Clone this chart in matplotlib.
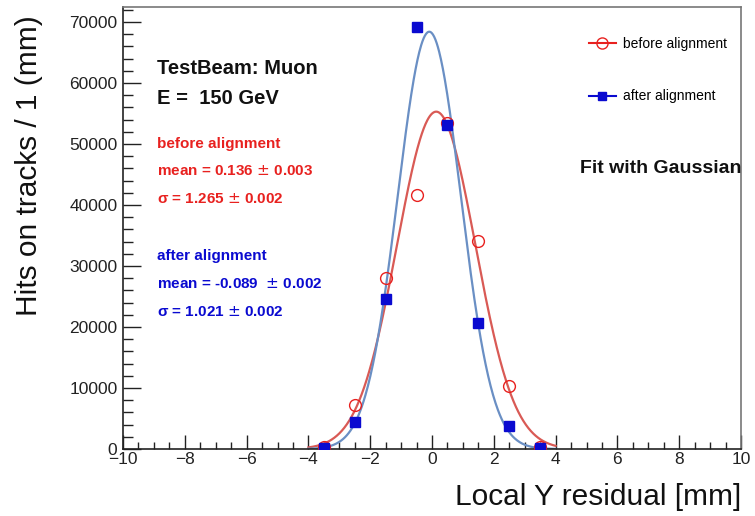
import numpy as np
import matplotlib
matplotlib.use("Agg")
import matplotlib.pyplot as plt
from matplotlib.ticker import MultipleLocator
from matplotlib.lines import Line2D

plt.rcParams['font.family'] = ['Liberation Sans', 'DejaVu Sans']

# Data
bin_centers = [-3.5, -2.5, -1.5, -0.5, 0.5, 1.5, 2.5, 3.5]
before_counts = [250, 7200, 28000, 41600, 53400, 34100, 10300, 300]
after_counts = [150, 4400, 24600, 69200, 53100, 20600, 3800, 200]

# Gaussian fit parameters (mean, sigma, amplitude)
before_mean, before_sigma, before_amp = 0.136, 1.265, 55300
after_mean, after_sigma, after_amp = -0.089, 1.021, 68400
fit_range = (-4.0, 4.0)

red = '#e8211f'
red_curve = '#d95a55'
blue = '#0a0ad0'
blue_curve = '#6a8fc4'

fig = plt.figure(figsize=(7.55, 5.16), dpi=100)
ax = fig.add_axes([0.1629, 0.1298, 0.9815 - 0.1629, 0.9864 - 0.1298])

xf = np.linspace(fit_range[0], fit_range[1], 400)
ax.plot(xf, before_amp * np.exp(-0.5 * ((xf - before_mean) / before_sigma) ** 2),
        color=red_curve, lw=1.6, zorder=2)
ax.plot(xf, after_amp * np.exp(-0.5 * ((xf - after_mean) / after_sigma) ** 2),
        color=blue_curve, lw=1.6, zorder=2)

ax.plot(bin_centers, before_counts, linestyle='none', marker='o', ms=8.5,
        mfc='none', mec=red, mew=1.0, zorder=3)
ax.plot(bin_centers, after_counts, linestyle='none', marker='s', ms=7,
        mfc=blue, mec=blue, zorder=3)

ax.set_xlim(-10, 10)
ax.set_ylim(0, 72450)

ax.xaxis.set_major_locator(MultipleLocator(2))
ax.xaxis.set_minor_locator(MultipleLocator(0.5))
ax.yaxis.set_major_locator(MultipleLocator(10000))
ax.yaxis.set_minor_locator(MultipleLocator(2000))
ax.tick_params(axis='both', which='both', direction='in', width=1.0,
               labelsize=12.5, colors='#222222', labelcolor='#222222')
ax.tick_params(axis='x', which='major', length=10)
ax.tick_params(axis='x', which='minor', length=5)
ax.tick_params(axis='y', which='major', length=13)
ax.tick_params(axis='y', which='minor', length=7)
ax.tick_params(axis='x', which='both', top=False, pad=2)
ax.tick_params(axis='y', which='both', right=False, pad=4)

for s in ['left', 'bottom']:
    ax.spines[s].set_color('#222222')
    ax.spines[s].set_linewidth(1.2)
for s in ['top', 'right']:
    ax.spines[s].set_color('#777777')
    ax.spines[s].set_linewidth(1.2)

xt = [-10, -8, -6, -4, -2, 0, 2, 4, 6, 8, 10]
ax.set_xticks(xt)
ax.set_xticklabels(['\u221210', '\u22128', '\u22126', '\u22124', '\u22122', '0', '2', '4', '6', '8', '10'])

ax.set_ylabel('Hits on tracks / 1 (mm)', fontsize=21.5, color='#111111', ha='right', va='center')
ax.yaxis.set_label_coords(-(123 - 29) / (741 - 123), (449 - 15) / (449 - 7))
ax.set_xlabel('Local Y residual [mm]', fontsize=21.5, color='#111111', ha='right', va='center')
ax.xaxis.set_label_coords(1.0, -(497 - 449) / (449 - 7))

# Annotations
def fx(px):
    return (px - 123) / (741 - 123)

def fy(py):
    return (449 - py) / (449 - 7)

ax.text(fx(157), fy(68), 'TestBeam: Muon', transform=ax.transAxes, fontsize=14.5,
        fontweight='bold', color='#111111', va='center', ha='left')
ax.text(fx(157), fy(98), 'E =  150 GeV', transform=ax.transAxes, fontsize=14.5,
        fontweight='bold', color='#111111', va='center', ha='left')

ax.text(fx(157), fy(144), 'before alignment', transform=ax.transAxes, fontsize=11,
        fontweight='bold', color=red, va='center', ha='left')
ax.text(fx(157), fy(171), 'mean = 0.136 $\\pm$ 0.003', transform=ax.transAxes, fontsize=11,
        fontweight='bold', color=red, va='center', ha='left')
ax.text(fx(157), fy(199), '\u03c3 = 1.265 $\\pm$ 0.002', transform=ax.transAxes, fontsize=11,
        fontweight='bold', color=red, va='center', ha='left')

ax.text(fx(157), fy(256), 'after alignment', transform=ax.transAxes, fontsize=11,
        fontweight='bold', color=blue, va='center', ha='left')
ax.text(fx(157), fy(284), 'mean = -0.089  $\\pm$ 0.002', transform=ax.transAxes, fontsize=11,
        fontweight='bold', color=blue, va='center', ha='left')
ax.text(fx(157), fy(312), '\u03c3 = 1.021 $\\pm$ 0.002', transform=ax.transAxes, fontsize=11,
        fontweight='bold', color=blue, va='center', ha='left')

ax.text(fx(580), fy(168), 'Fit with Gaussian', transform=ax.transAxes, fontsize=14,
        fontweight='bold', color='#111111', va='center', ha='left')

# Legend
handles = [Line2D([], [], color=red, lw=1.5, marker='o', ms=8, mfc='none', mec=red),
           Line2D([], [], color=blue, lw=1.5, marker='s', ms=6, mfc=blue, mec=blue)]
leg = ax.legend(handles, ['before alignment', 'after alignment'],
                loc='upper left', bbox_to_anchor=(fx(583), fy(31)),
                frameon=False, fontsize=10, labelspacing=2.8,
                handlelength=2.0, handletextpad=0.45, borderaxespad=0)

fig.savefig('out.png', dpi=100)
